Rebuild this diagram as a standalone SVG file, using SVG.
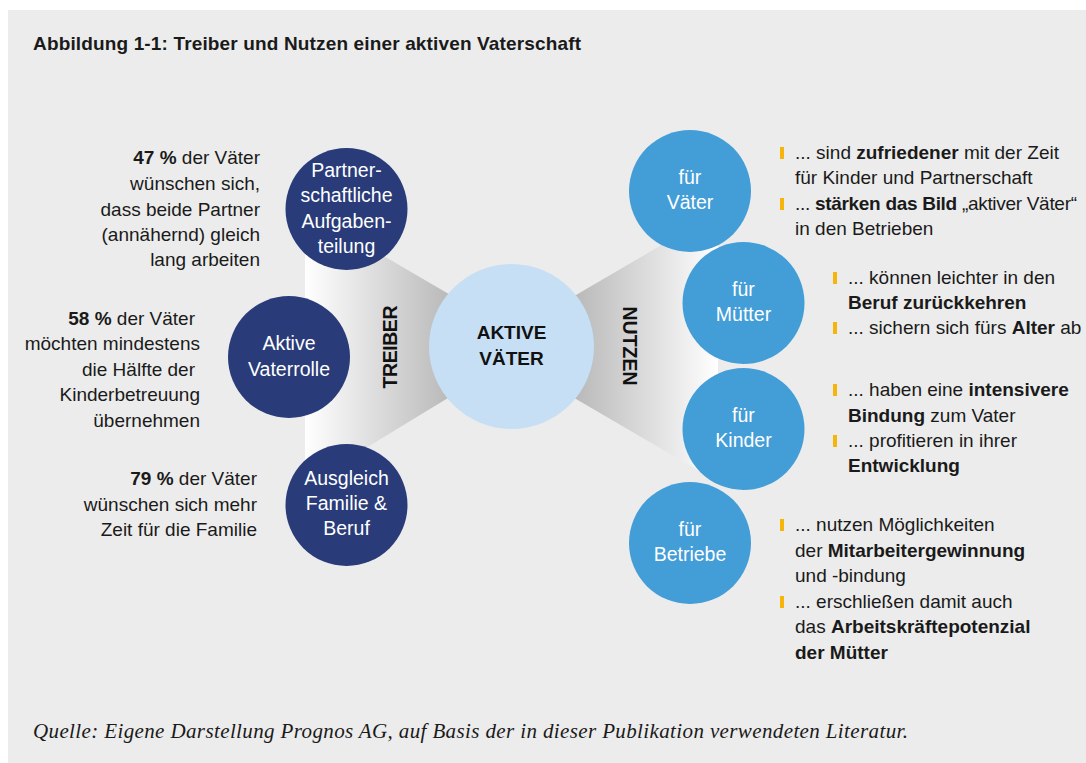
<svg xmlns="http://www.w3.org/2000/svg" width="1086" height="763" viewBox="0 0 1086 763">
<style>
text{font-family:"Liberation Sans",Arial,sans-serif;fill:#1a1a1a}
.b{font-weight:bold}
.ann{font-size:19px}
.ann-l{font-size:19px;text-anchor:end}
.circ{font-size:19.5px;fill:#ffffff;text-anchor:middle}
.cen{font-size:19px;font-weight:bold;text-anchor:middle;fill:#111}
.lab{font-size:19.5px;font-weight:bold;text-anchor:middle;fill:#111}
.navy{fill:#293b79}
.blue{fill:#439dd7}
.bul{fill:#f5b50a}
</style>
<defs>
<linearGradient id="gl" gradientUnits="userSpaceOnUse" x1="305" y1="0" x2="450" y2="0">
<stop offset="0" stop-color="#ffffff"/>
<stop offset="1" stop-color="#b9b9b9"/>
</linearGradient>
<linearGradient id="gr" gradientUnits="userSpaceOnUse" x1="575" y1="0" x2="718" y2="0">
<stop offset="0" stop-color="#b9b9b9"/>
<stop offset="1" stop-color="#ffffff"/>
</linearGradient>
</defs>
<rect x="0" y="0" width="1086" height="763" fill="#ffffff"/>
<rect x="8" y="10" width="1078" height="753" fill="#ececec"/>
<text x="33" y="50" class="b" font-size="19" textLength="548" lengthAdjust="spacing">Abbildung 1-1: Treiber und Nutzen einer aktiven Vaterschaft</text>

<g id="connectors">
<polygon points="305,210 512,331 512,359 305,485" fill="url(#gl)"/>
<polygon points="511,333 718,212 718,482 511,361" fill="url(#gr)"/>
<text class="lab" transform="translate(397,347) rotate(-90)" textLength="83" lengthAdjust="spacing">TREIBER</text>
<text class="lab" transform="translate(623,346) rotate(90)" textLength="79" lengthAdjust="spacing">NUTZEN</text>
</g>

<g id="center">
<circle cx="511.5" cy="346.5" r="82.5" fill="#c6dff5"/>
<text class="cen" x="511.5" y="339">AKTIVE</text>
<text class="cen" x="511.5" y="365">VÄTER</text>
</g>

<g id="partner">
<circle class="navy" cx="346.5" cy="209" r="61"/>
<text class="circ" x="346.5" y="177">Partner-</text>
<text class="circ" x="346.5" y="202">schaftliche</text>
<text class="circ" x="346.5" y="228">Aufgaben-</text>
<text class="circ" x="346.5" y="253">teilung</text>
</g>
<g id="vaterrolle">
<circle class="navy" cx="289" cy="357" r="61"/>
<text class="circ" x="289" y="350">Aktive</text>
<text class="circ" x="289" y="376">Vaterrolle</text>
</g>
<g id="ausgleich">
<circle class="navy" cx="346.5" cy="505" r="61"/>
<text class="circ" x="346.5" y="485">Ausgleich</text>
<text class="circ" x="346.5" y="510">Familie &amp;</text>
<text class="circ" x="346.5" y="535">Beruf</text>
</g>

<g id="ann-partner">
<text class="ann-l" x="260" y="164"><tspan class="b">47 %</tspan> der Väter</text>
<text class="ann-l" x="260" y="190">wünschen sich,</text>
<text class="ann-l" x="260" y="216">dass beide Partner</text>
<text class="ann-l" x="260" y="241">(annähernd) gleich</text>
<text class="ann-l" x="260" y="266">lang arbeiten</text>
</g>
<g id="ann-vaterrolle">
<text class="ann-l" x="195" y="325"><tspan class="b">58 %</tspan> der Väter</text>
<text class="ann-l" x="200" y="350">möchten mindestens</text>
<text class="ann-l" x="195" y="376">die Hälfte der</text>
<text class="ann-l" x="200" y="401">Kinderbetreuung</text>
<text class="ann-l" x="200" y="427">übernehmen</text>
</g>
<g id="ann-ausgleich">
<text class="ann-l" x="257" y="485"><tspan class="b">79 %</tspan> der Väter</text>
<text class="ann-l" x="257" y="511">wünschen sich mehr</text>
<text class="ann-l" x="257" y="536">Zeit für die Familie</text>
</g>

<g id="vaeter">
<circle class="blue" cx="690" cy="191" r="61"/>
<text class="circ" x="690" y="184">für</text>
<text class="circ" x="690" y="209">Väter</text>
</g>
<g id="muetter">
<circle class="blue" cx="743.5" cy="303" r="61"/>
<text class="circ" x="743.5" y="296">für</text>
<text class="circ" x="743.5" y="321">Mütter</text>
</g>
<g id="kinder">
<circle class="blue" cx="743.5" cy="429" r="61"/>
<text class="circ" x="743.5" y="422">für</text>
<text class="circ" x="743.5" y="447">Kinder</text>
</g>
<g id="betriebe">
<circle class="blue" cx="690" cy="543" r="61"/>
<text class="circ" x="690" y="536">für</text>
<text class="circ" x="690" y="561">Betriebe</text>
</g>

<g id="txt-vaeter">
<rect class="bul" x="780" y="147" width="4" height="12"/>
<text class="ann" x="795" y="159">... sind <tspan class="b">zufriedener</tspan> mit der Zeit</text>
<text class="ann" x="795" y="184">für Kinder und Partnerschaft</text>
<rect class="bul" x="780" y="198" width="4" height="12"/>
<text class="ann" x="795" y="210" font-size="18.5" letter-spacing="-0.3">... <tspan class="b">stärken das Bild</tspan> „aktiver Väter“</text>
<text class="ann" x="795" y="235">in den Betrieben</text>
</g>
<g id="txt-muetter">
<rect class="bul" x="833" y="272" width="4" height="12"/>
<text class="ann" x="848" y="284">... können leichter in den</text>
<text class="ann b" x="848" y="309">Beruf zurückkehren</text>
<rect class="bul" x="833" y="322" width="4" height="12"/>
<text class="ann" x="848" y="334">... sichern sich fürs <tspan class="b">Alter</tspan> ab</text>
</g>
<g id="txt-kinder">
<rect class="bul" x="833" y="384" width="4" height="12"/>
<text class="ann" x="848" y="396">... haben eine <tspan class="b">intensivere</tspan></text>
<text class="ann" x="848" y="422"><tspan class="b">Bindung</tspan> zum Vater</text>
<rect class="bul" x="833" y="435" width="4" height="12"/>
<text class="ann" x="848" y="447">... profitieren in ihrer</text>
<text class="ann b" x="848" y="472">Entwicklung</text>
</g>
<g id="txt-betriebe">
<rect class="bul" x="780" y="519" width="4" height="12"/>
<text class="ann" x="795" y="531">... nutzen Möglichkeiten</text>
<text class="ann" x="795" y="557">der <tspan class="b">Mitarbeitergewinnung</tspan></text>
<text class="ann" x="795" y="582">und -bindung</text>
<rect class="bul" x="780" y="596" width="4" height="12"/>
<text class="ann" x="795" y="608">... erschließen damit auch</text>
<text class="ann" x="795" y="633">das <tspan class="b">Arbeitskräftepotenzial</tspan></text>
<text class="ann b" x="795" y="659">der Mütter</text>
</g>

<text x="33" y="738" font-style="italic" font-size="21" textLength="875" lengthAdjust="spacing" style="font-family:'Liberation Serif',serif">Quelle: Eigene Darstellung Prognos AG, auf Basis der in dieser Publikation verwendeten Literatur.</text>
</svg>
